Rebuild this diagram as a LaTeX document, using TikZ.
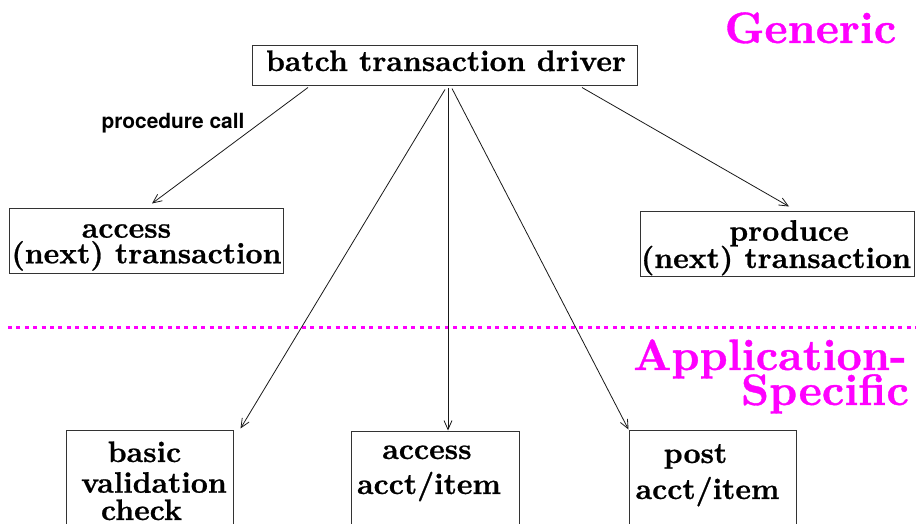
\documentclass[tikz,border=0pt]{standalone}
\usepackage{fontspec}
\newfontfamily\helv{TeX Gyre Heros}
% bold extended roman at its 10pt design, scaled up and slightly thickened
\newfontfamily\bxroman{lmroman10-bold}[Extension=.otf, FakeBold=0.8]
\usetikzlibrary{arrows.meta,calc}

\definecolor{zone}{RGB}{255,0,255}

\tikzset{
  box/.style={draw=black!80, line width=1pt, inner sep=0pt, rectangle},
  lbl/.style={anchor=base, inner sep=0pt, font=\bxroman\fontsize{29.6}{30}\selectfont},
  zonelbl/.style={anchor=base, inner sep=0pt, text=zone, font=\bxroman\fontsize{44}{44}\selectfont},
  call/.style={-{Straight Barb[length=9pt,width=8pt]}, line width=0.8pt, black!90},
}

\begin{document}
\begin{tikzpicture}[x=1pt, y=-1pt]
\useasboundingbox (0,0) rectangle (916,524);
\clip (0,0) rectangle (916,524);

% zone labels and the dividing line
\node[zonelbl] (generic) at (810.5,43) {Generic};
\node[zonelbl, text depth=0pt] (appl) at (770,370) {Application-};
\node[zonelbl] (spec) at (825,405) {Specific};
\draw[zone, line width=3pt, dash pattern=on 4pt off 4.4pt] (8,327.5) coordinate (divL) -- (916,327.5) coordinate (divR);

% boxes
\node[box, minimum width=385pt, minimum height=40pt] (driver) at (444.5,66) {};
\node[box, minimum width=274pt, minimum height=65pt] (accnext) at (146,240.5) {};
\node[box, minimum width=274pt, minimum height=65pt] (prodnext) at (777,243.5) {};
\node[box, minimum width=167pt, minimum height=140pt] (valid) at (149.5,500) {};
\node[box, minimum width=168pt, minimum height=140pt] (accitem) at (435,501) {};
\node[box, minimum width=167pt, minimum height=140pt] (post) at (712.5,500) {};

% box texts
\node[lbl] (tdriver) at (446,71) {batch transaction driver};
\node[lbl] (taccA) at (126.5,237.7) {access};
\node[lbl] (taccB) at (146.5,263.3) {(next) transaction};
\node[lbl] (tprodA) at (789,240.7) {produce};
\node[lbl] (tprodB) at (776,268) {(next) transaction};
\node[lbl] (tvalA) at (144.5,462) {basic};
\node[lbl] (tvalB) at (154,492.7) {validation};
\node[lbl] (tvalC) at (141.5,520) {check};
\node[lbl] (titemA) at (427,459) {access};
\node[lbl] (titemB) at (429,494) {acct/item};
\node[lbl] (tpostA) at (695.5,463) {post};
\node[lbl] (tpostB) at (707.5,499) {acct/item};

% connector label
\node[anchor=base, inner sep=0pt, font=\helv\bfseries\fontsize{20.9}{21}\selectfont] (pcall) at (173,129) {procedure call};

% procedure calls from the driver
\draw[call] ($(driver.south)+(-136.5,1)$) -- ($(accnext.north)+(6,-4)$);
\draw[call] ($(driver.south)+(137.5,1)$) -- ($(prodnext.north)+(12,-4)$);
\draw[call] ($(driver.south)+(0.5,3)$) -- ($(valid.north east)+(7,-1)$);
\draw[call] ($(driver.south)+(3.5,2)$) -- ($(accitem.north)+(13,0)$);
\draw[call] ($(driver.south)+(7.5,2)$) -- (post.north west);
\end{tikzpicture}
\end{document}
